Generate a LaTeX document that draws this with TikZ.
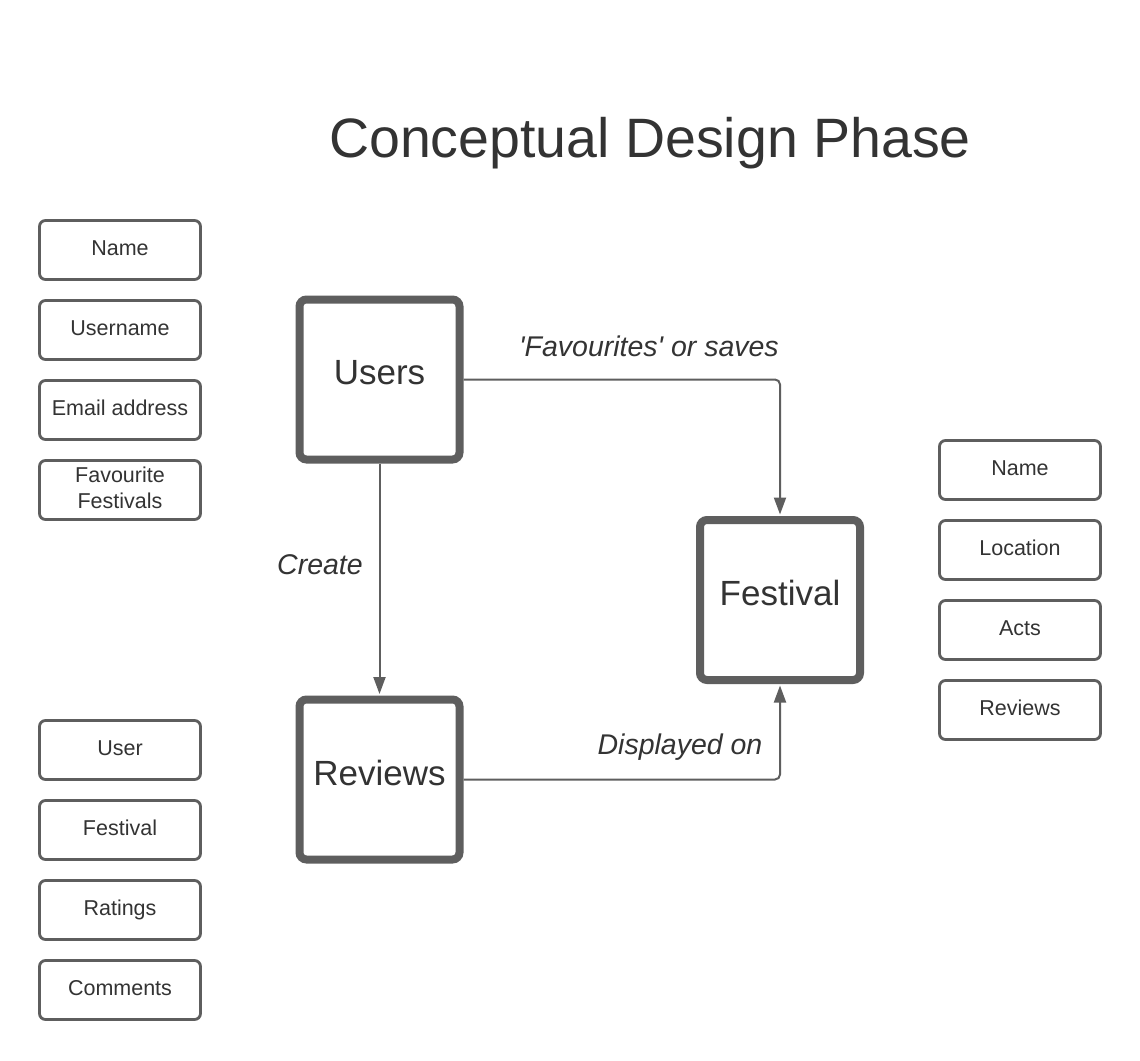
\documentclass[tikz,border=0pt]{standalone}
\usepackage{fontspec}
\setmainfont{Liberation Sans}
\usetikzlibrary{arrows.meta}
\definecolor{edgegray}{HTML}{5E5E5E}
\definecolor{textgray}{HTML}{333333}
\begin{document}
\begin{tikzpicture}[x=1pt,y=-1pt,
  bigbox/.style={draw=edgegray,line width=8pt,rounded corners=7pt,fill=white,
    minimum width=160pt,minimum height=160pt,text=textgray,text depth=14pt,
    font=\fontsize{35}{42}\selectfont},
  attrbox/.style={draw=edgegray,line width=2.8pt,rounded corners=6pt,fill=white,
    minimum width=161pt,minimum height=59pt,text=textgray,align=center,
    text depth=4pt,font=\fontsize{21.5}{26}\selectfont,inner sep=0pt},
  conn/.style={draw=edgegray,line width=2pt,rounded corners=5pt,
    -{Triangle[length=17pt,width=12pt]}},
  lbl/.style={text=textgray,font=\fontsize{28.5}{34}\selectfont\itshape}
]
\useasboundingbox (0,0) rectangle (1140,1060);
\fill[white] (0,0) rectangle (1140,1060);

\node[text=textgray,font=\fontsize{55.5}{66}\selectfont,anchor=base] (title) at (650,157) {Conceptual Design Phase};

\node[bigbox] (users) at (379.5,379.5) {Users};
\node[bigbox] (reviews) at (379.5,779.5) {Reviews};
\node[bigbox] (festival) at (780,600) {Festival};

\node[attrbox] (u1) at (120,250) {Name};
\node[attrbox] (u2) at (120,330) {Username};
\node[attrbox] (u3) at (120,410) {Email address};
\node[attrbox] (u4) at (120,490) {Favourite\\Festivals};

\node[attrbox] (r1) at (120,750) {User};
\node[attrbox] (r2) at (120,830) {Festival};
\node[attrbox] (r3) at (120,910) {Ratings};
\node[attrbox] (r4) at (120,990) {Comments};

\node[attrbox] (f1) at (1020,470) {Name};
\node[attrbox] (f2) at (1020,550) {Location};
\node[attrbox] (f3) at (1020,630) {Acts};
\node[attrbox] (f4) at (1020,710) {Reviews};

\draw[conn,shorten >=1.5pt] (users.east) -| (festival.north);
\draw[conn,shorten >=1.5pt] (users.south) -- (reviews.north);
\draw[conn,shorten >=1.5pt] (reviews.east) -| (festival.south);

\node[lbl] (l1) at (649,346) {\textquotesingle Favourites\textquotesingle{} or saves};
\node[lbl] (l2) at (320,565) {Create};
\node[lbl] (l3) at (680,747) {Displayed on};
\end{tikzpicture}
\end{document}
